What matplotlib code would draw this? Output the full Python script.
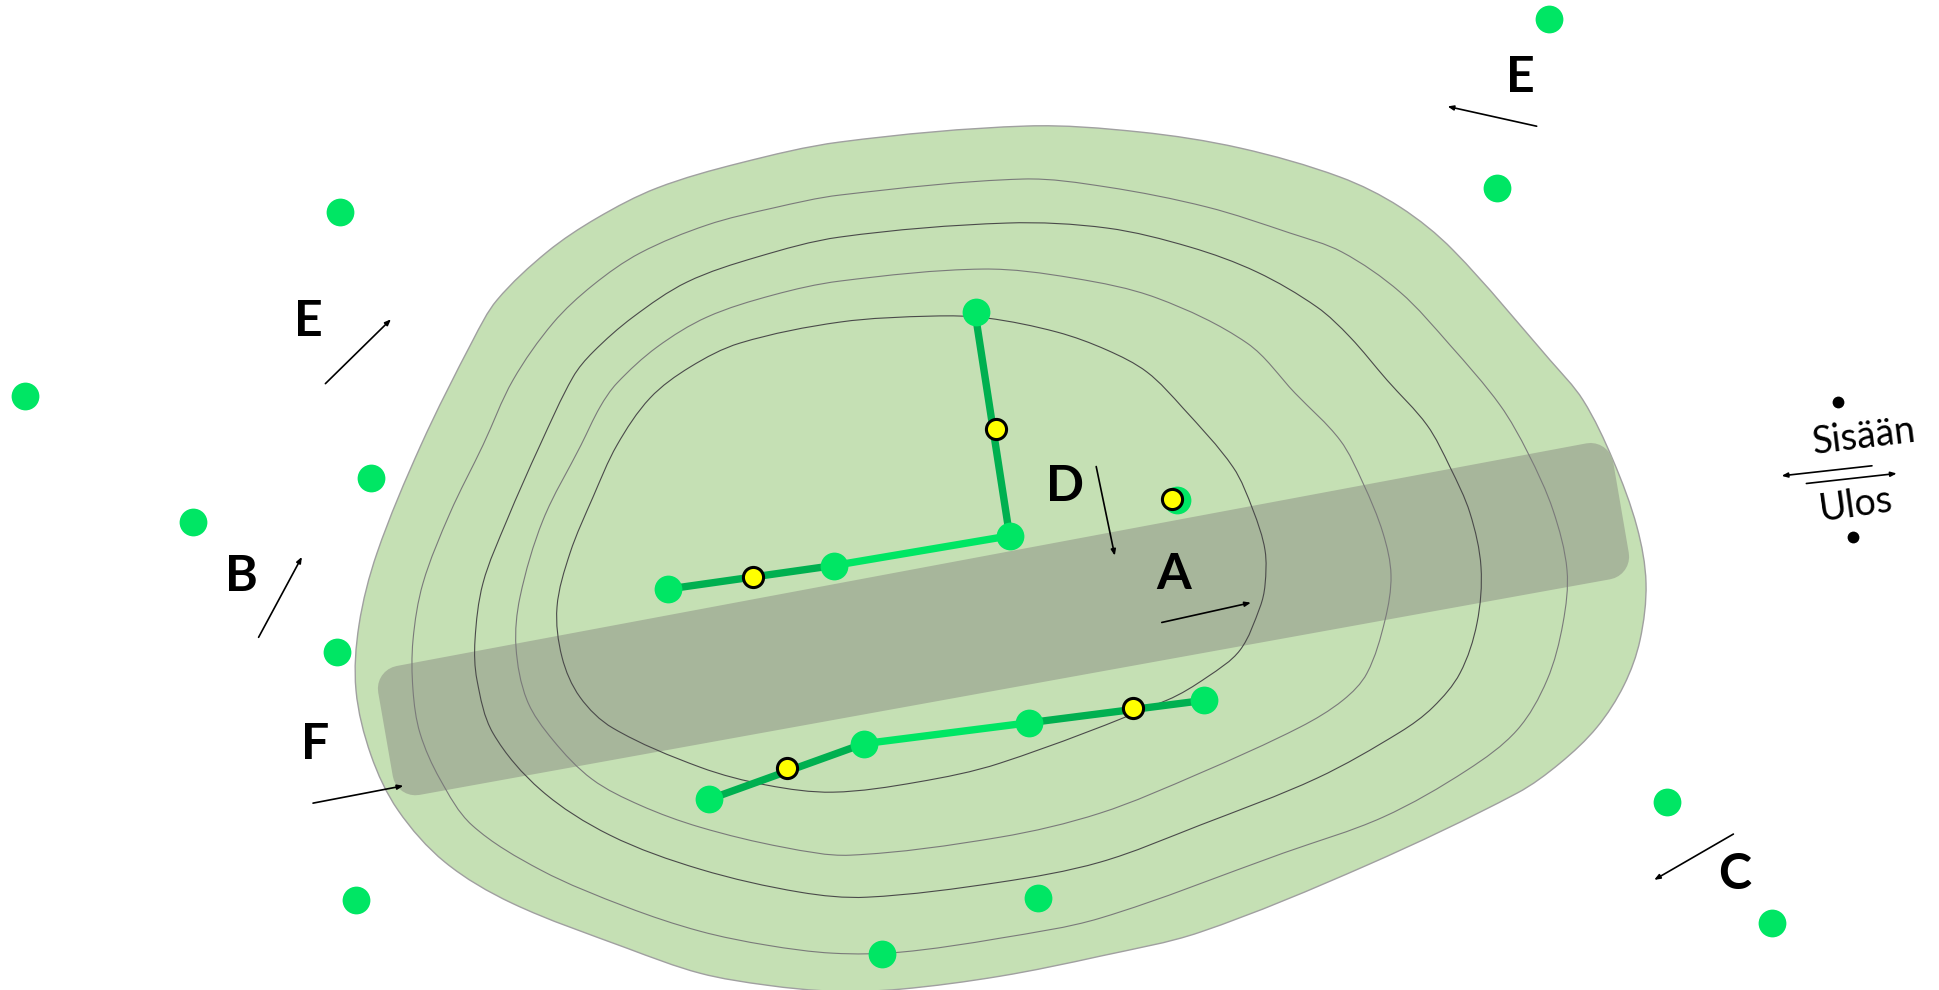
import matplotlib
matplotlib.use('Agg')
import matplotlib.pyplot as plt
import numpy as np
from matplotlib.path import Path
from matplotlib.patches import PathPatch, Polygon

plt.rcParams['font.family'] = ['Lato', 'DejaVu Sans']

# outlines in full image pixels (1940 wide)
outer = [(840,142),(1027,126),(1140,132),(1240,148),(1340,177),(1400,207),(1453,250),(1550,360),
         (1583,400),(1613,460),(1637,527),(1646,583),(1640,640),(1624,685),(1597,727),(1560,763),(1517,793),
         (1367,865),(1200,932),(1100,956),(1000,976),(900,989),(833,991),(767,985),
         (700,973),(627,948),(512,903),(445,862),(398,810),(371,755),(356,690),(359,625),(377,553),
         (421,445),(473,340),(497,300),(547,252),(597,218),(657,188),(740,163)]
contour1 = [(840,195),(1023,179),(1107,187),(1207,207),(1290,233),(1342,252),(1400,292),(1450,345),
            (1500,405),(1528,453),(1553,510),(1567,570),(1563,623),(1547,680),(1517,730),(1467,770),(1383,817),
            (1283,853),(1100,918),(1000,938),(900,952),(833,953),(767,945),(700,931),(627,907),
            (541,870),(472,825),(440,779),(420,733),(413,690),(413,640),(423,583),(450,513),(483,445),(513,380),
            (553,323),(593,285),(640,253),(707,225),(773,208)]
contour2 = [(840,237),(1007,223),(1107,228),(1190,247),(1257,272),(1317,307),(1350,337),(1387,380),
            (1427,425),(1450,467),(1470,513),(1481,567),(1477,623),(1460,673),(1433,707),(1400,732),(1317,778),
            (1200,825),(1100,862),(1000,882),(867,897),(800,892),(700,869),(610,835),
            (541,790),(493,733),(477,680),(475,640),(483,583),(507,520),(540,445),(573,377),(593,352),(633,317),
            (687,282),(757,257)]
contour3 = [(840,281),(983,269),(1073,278),(1157,298),(1247,343),(1295,393),(1340,440),
            (1363,483),(1383,533),(1391,575),(1385,620),(1367,673),(1343,700),(1300,727),(1200,773),
            (1100,813),(1000,837),(850,855),(783,847),(700,827),(640,805),(592,779),(553,740),(527,700),
            (516,647),(520,597),(543,520),(581,445),(600,407),(617,383),(657,347),(707,317),(773,295)]
contour4 = [(840,322),(933,316),(987,318),(1057,332),(1107,350),(1147,372),(1183,408),(1233,467),(1253,510),
            (1265,550),(1265,585),(1260,607),(1240,650),(1207,677),(1167,700),(1000,763),(917,782),
            (833,792),(767,785),(700,767),(613,728),(580,697),(562,657),(557,607),(570,553),(593,497),
            (617,445),(650,398),(690,367),(740,343)]
band = [(400.8,688.4),(1590.6,465.8),(1606.2,556.6),(415.4,772.2)]

# the rest is read from the 1568 wide view
nodes_x = [1252,1210,275,20,300,156,272,288,713,839,1347,1432,951,788.5,816,674,540,698,573,832,973]
nodes_y = [15,152,171,320,386,422,527,727,771,726,648,746,404,252,433,457,476,601,646,584,566]
yellow_x = [805,609,947,636,916]
yellow_y = [347,466,403,621,572]

dark_links = [((788,252),(816,433)), ((540,476),(674,457)), ((573,646),(698,601)), ((832,584),(973,566))]
light_links = [((674,457),(816,433)), ((698,601),(832,584))]

arrows = [((1242,102),(1170,86)), ((263,310),(316,258)), ((209,515),(244,450)), ((886,377),(901,449)),
          ((939,503),(1011,487)), ((253,649),(326,635)), ((1401,674),(1337,711)),
          ((1513,376.4),(1440,384.5)), ((1460,390.7),(1533,382.6))]
labels = ['E', 'E', 'B', 'D', 'A', 'F', 'C']
labels_x = [1229,249,195,861,949,255,1402]
labels_y = [63,260,466,393,464,602,707]
dots_x = [1485.5,1497.5]
dots_y = [325,433.8]

view = 1940 / 1568


def smooth_closed(pts):
    # bezier through the points, handles a third of each segment long
    pts = np.array(pts, dtype=float) / view
    n = len(pts)
    tang = np.roll(pts, -1, axis=0) - np.roll(pts, 1, axis=0)
    tang = tang / np.linalg.norm(tang, axis=1, keepdims=True)
    verts = [pts[0]]
    codes = [Path.MOVETO]
    for i in range(n):
        j = (i+1) % n
        d = np.linalg.norm(pts[j]-pts[i]) / 3
        verts += [pts[i] + tang[i]*d, pts[j] - tang[j]*d, pts[j]]
        codes += [Path.CURVE4]*3
    return Path(verts, codes)


fig = plt.figure(figsize=(19.4, 9.9), dpi=100)
ax = fig.add_axes([0, 0, 1, 1])
ax.set_xlim(0, 1568)
ax.set_ylim(800, 0)
ax.axis('off')

ax.add_patch(PathPatch(smooth_closed(outer), fc='#C5E0B4', ec='#a0a0a0', lw=1, zorder=1))
ax.add_patch(Polygon(np.array(band)/view, closed=True, fc='#A7B69B', ec='#A7B69B', lw=33, joinstyle='round', zorder=2))

ax.add_patch(PathPatch(smooth_closed(contour1), fc='none', ec='#7a7a7a', lw=0.8, zorder=3))
ax.add_patch(PathPatch(smooth_closed(contour2), fc='none', ec='#4a4a4a', lw=0.8, zorder=3))
ax.add_patch(PathPatch(smooth_closed(contour3), fc='none', ec='#7a7a7a', lw=0.8, zorder=3))
ax.add_patch(PathPatch(smooth_closed(contour4), fc='none', ec='#4a4a4a', lw=0.8, zorder=3))

for a, b in dark_links:
    ax.plot([a[0], b[0]], [a[1], b[1]], color='#00B050', lw=5.3, solid_capstyle='butt', zorder=4)
for a, b in light_links:
    ax.plot([a[0], b[0]], [a[1], b[1]], color='#00E664', lw=5.3, solid_capstyle='butt', zorder=4)

ax.plot(nodes_x, nodes_y, 'o', color='#00E664', ms=20, mew=0, zorder=5)
ax.plot(yellow_x, yellow_y, 'o', mfc='#FFFF00', mec='black', ms=14.5, mew=2.2, zorder=6)
ax.plot(dots_x, dots_y, 'o', color='black', ms=8.5, mew=0, zorder=6)

for start, end in arrows:
    ax.annotate('', xy=end, xytext=start, zorder=7,
                arrowprops=dict(arrowstyle='-|>,head_length=0.35,head_width=0.14', color='black', lw=1.2,
                                shrinkA=0, shrinkB=0))

for s, x, y in zip(labels, labels_x, labels_y):
    ax.text(x, y, s, fontsize=36, fontweight='bold', ha='center', va='center', zorder=8)

ax.text(1507, 353, 'Sisään', fontsize=27, rotation=7, ha='center', va='center', zorder=8)
ax.text(1500, 408, 'Ulos', fontsize=27, rotation=8, ha='center', va='center', zorder=8)

plt.savefig('out.png', dpi=100)
